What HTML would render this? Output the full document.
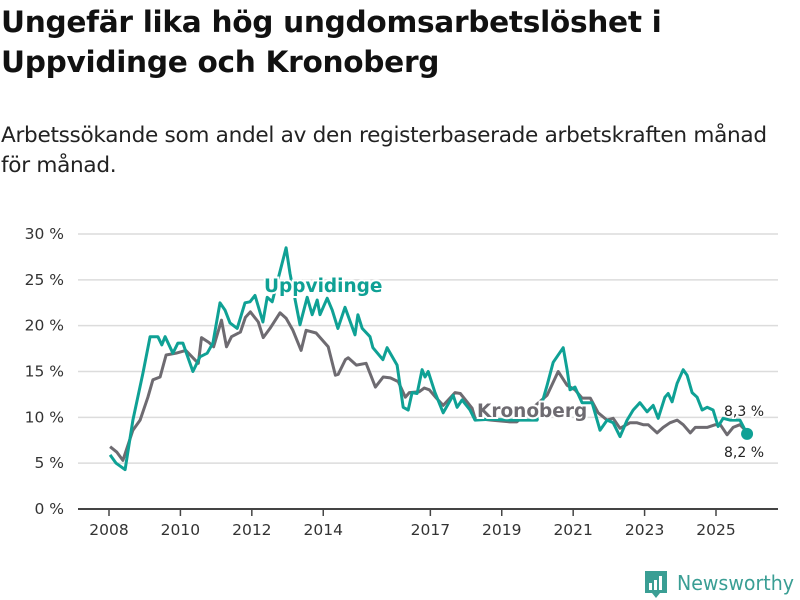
<!DOCTYPE html>
<html><head><meta charset="utf-8"><style>
body{margin:0;width:800px;height:600px;background:#fff;overflow:hidden;font-family:"Liberation Sans","DejaVu Sans",sans-serif;}
h1{position:absolute;left:1px;top:2px;margin:0;font-size:29.6px;line-height:40px;font-weight:bold;color:#111;font-family:"DejaVu Sans","Liberation Sans",sans-serif;letter-spacing:-0.3px;white-space:nowrap}
p{position:absolute;left:1px;top:121px;margin:0;font-size:21.6px;line-height:30px;color:#222;font-family:"DejaVu Sans","Liberation Sans",sans-serif;letter-spacing:-0.3px;white-space:nowrap}
</style></head><body>
<h1>Ungefär lika hög ungdomsarbetslöshet i<br>Uppvidinge och Kronoberg</h1>
<p>Arbetssökande som andel av den registerbaserade arbetskraften månad<br>för månad.</p>
<svg id="chart" width="800" height="600" style="position:absolute;left:0;top:0" font-family="DejaVu Sans, Liberation Sans, sans-serif"></svg>
<script>
const yTicks=[0,5,10,15,20,25,30];
const xTicks=[2008,2010,2012,2014,2017,2019,2021,2023,2025];
const uppYears=[2008.03,2008.2,2008.45,2008.67,2008.95,2009.15,2009.37,2009.48,2009.57,2009.79,2009.93,2010.07,2010.35,2010.55,2010.75,2010.91,2011.11,2011.25,2011.39,2011.59,2011.81,2011.95,2012.09,2012.31,2012.43,2012.57,2012.96,2013.07,2013.35,2013.55,2013.69,2013.83,2013.91,2014.11,2014.25,2014.41,2014.61,2014.89,2014.97,2015.09,2015.31,2015.39,2015.67,2015.79,2016.07,2016.24,2016.38,2016.49,2016.63,2016.77,2016.85,2016.94,2017.13,2017.36,2017.64,2017.75,2017.89,2018.11,2018.25,2018.67,2019.23,2019.99,2020.27,2020.44,2020.72,2020.83,2020.91,2021.05,2021.25,2021.53,2021.75,2021.95,2022.12,2022.31,2022.51,2022.68,2022.87,2023.07,2023.24,2023.38,2023.57,2023.66,2023.77,2023.91,2024.08,2024.19,2024.33,2024.47,2024.61,2024.75,2024.92,2025.06,2025.2,2025.39,2025.67,2025.87];
const uppValues=[5.9,5.0,4.3,9.7,14.8,18.8,18.8,17.9,18.8,17.0,18.1,18.1,15.0,16.6,17.0,18.1,22.5,21.7,20.3,19.7,22.5,22.6,23.3,20.4,23.1,22.6,28.5,25.7,20.1,23.1,21.2,22.8,21.2,23.0,21.7,19.7,22.0,19.0,21.2,19.7,18.8,17.6,16.3,17.6,15.7,11.1,10.8,12.7,12.6,15.2,14.4,15.0,12.7,10.5,12.4,11.1,11.9,10.8,9.7,9.8,9.7,9.7,13.5,16.0,17.6,15.2,13.0,13.3,11.6,11.6,8.6,9.7,9.4,7.9,9.7,10.8,11.6,10.6,11.3,9.9,12.2,12.6,11.7,13.7,15.2,14.6,12.7,12.2,10.8,11.1,10.8,9.0,9.9,9.7,9.7,8.2];
const kroYears=[2008.03,2008.22,2008.39,2008.67,2008.87,2009.09,2009.23,2009.43,2009.6,2009.88,2010.15,2010.5,2010.59,2010.79,2010.93,2011.15,2011.29,2011.43,2011.68,2011.82,2011.96,2012.18,2012.32,2012.51,2012.79,2012.96,2013.15,2013.38,2013.52,2013.8,2014.14,2014.34,2014.42,2014.62,2014.7,2014.93,2015.2,2015.46,2015.68,2015.88,2016.1,2016.3,2016.41,2016.69,2016.83,2016.97,2017.17,2017.36,2017.69,2017.84,2018.17,2018.25,2018.7,2019.23,2019.42,2020.27,2020.58,2020.83,2021.05,2021.25,2021.48,2021.7,2021.95,2022.12,2022.31,2022.59,2022.79,2022.96,2023.1,2023.35,2023.52,2023.71,2023.91,2024.08,2024.28,2024.42,2024.56,2024.75,2024.98,2025.12,2025.31,2025.48,2025.67,2025.87];
const kroValues=[6.8,6.2,5.3,8.6,9.7,12.2,14.1,14.4,16.8,17.0,17.3,15.9,18.7,18.2,17.7,20.6,17.7,18.8,19.3,20.9,21.5,20.4,18.7,19.7,21.4,20.8,19.5,17.3,19.5,19.2,17.7,14.6,14.7,16.3,16.5,15.7,15.9,13.3,14.4,14.3,13.9,12.2,12.7,12.8,13.2,13.0,12.1,11.3,12.7,12.6,11.0,9.9,9.7,9.5,9.5,12.4,15.0,13.5,13.0,12.1,12.1,10.5,9.7,9.9,8.8,9.4,9.4,9.2,9.2,8.3,8.9,9.4,9.7,9.2,8.3,8.9,8.9,8.9,9.2,9.2,8.1,8.9,9.2,8.4];
const NS='http://www.w3.org/2000/svg';
const svg=document.getElementById('chart');
const x0=78,x1=778,yTop=234,yBot=509;
function xs(v){return 109+(v-2008)*(607/17);}
function ys(v){return yBot-(v/30)*(yBot-yTop);}
function mk(t,a,parent){const e=document.createElementNS(NS,t);for(const k in a)e.setAttribute(k,a[k]);(parent||svg).appendChild(e);return e;}
yTicks.forEach(v=>{
  const g=mk('line',{x1:x0,x2:x1,y1:ys(v),y2:ys(v),stroke:v===0?'#444':'#dcdcdc','stroke-width':v===0?2:1.5});
  
  
  const t=mk('text',{x:64,y:ys(v)+5,'text-anchor':'end','font-size':15.5,fill:'#333'});
  t.textContent=v+' %';
  
  
});
xTicks.forEach(v=>{
  const l=mk('line',{x1:xs(v),x2:xs(v),y1:yBot,y2:yBot+7,stroke:'#444','stroke-width':1.5});
  
  
  const t=mk('text',{x:xs(v),y:535,'text-anchor':'middle','font-size':15.5,fill:'#333'});
  t.textContent=v;
  
  
});
function path(yr,vals){return yr.map((y,i)=>(i?'L':'M')+xs(y).toFixed(1)+','+ys(vals[i]).toFixed(1)).join('');}
const pk=mk('path',{d:path(kroYears,kroValues),fill:'none',stroke:'#6e6b71','stroke-width':3,'stroke-linejoin':'round'});


const pu=mk('path',{d:path(uppYears,uppValues),fill:'none',stroke:'#0fa195','stroke-width':3,'stroke-linejoin':'round'});


const dot=mk('circle',{cx:xs(uppYears[uppYears.length-1]),cy:ys(uppValues[uppValues.length-1]),r:6,fill:'#0fa195'});


function lbl(txt,x,y,fill,name,bold,anchor){const t=mk('text',{x:x,y:y,'font-size':bold?18.5:14,'font-weight':bold?'bold':'normal',fill:fill,stroke:'#fff','stroke-width':bold?4:3,'paint-order':'stroke','text-anchor':anchor||'start'});t.textContent=txt;}
lbl('Uppvidinge',264,292,'#0fa195','uppvidinge-label',true);
lbl('Kronoberg',477,417,'#6e6b71','kronoberg-label',true);
lbl('8,3 %',724,416,'#222','kronoberg-end-value',false);
lbl('8,2 %',724,457,'#222','uppvidinge-end-value',false);
// logo
const lg=mk('g',{});


mk('path',{d:'M645,571 h22 v22 h-7 l-4,5 l-4,-5 h-7 z',fill:'#3a9e94'},lg);
mk('rect',{x:649,y:583,width:3,height:7,fill:'#fff'},lg);
mk('rect',{x:654,y:580,width:3,height:10,fill:'#fff'},lg);
mk('rect',{x:659,y:576,width:3,height:14,fill:'#fff'},lg);
const lt=mk('text',{x:677,y:590,'font-size':20,fill:'#3a9e94',textLength:117,lengthAdjust:'spacingAndGlyphs'},lg);lt.textContent='Newsworthy';
</script>
</body></html>
